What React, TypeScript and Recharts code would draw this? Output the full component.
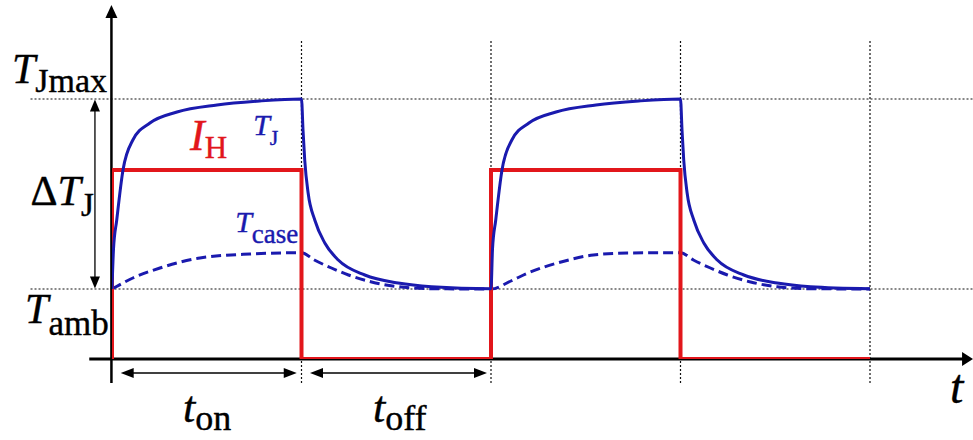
import React from "react"
import { LineChart, Line, XAxis, YAxis, ReferenceLine, ReferenceDot } from "recharts"

// heater current I_H: on for t_on, off for t_off (period = 2 units)
const squareTime = [0, 0, 1, 1, 2, 2, 3, 3, 4]
const squareLevel = [0, 18.9, 18.9, 0, 0, 18.9, 18.9, 0, 0]

// junction temperature T_J
const junctionTime = [
  0, 0.008, 0.025, 0.058, 0.11, 0.2, 0.343, 0.554, 0.78, 1.0,
  1.008, 1.017, 1.035, 1.07, 1.123, 1.194, 1.334, 1.51, 1.686, 2.0,
  2.008, 2.025, 2.058, 2.11, 2.2, 2.343, 2.554, 2.78, 3.0,
  3.008, 3.017, 3.035, 3.07, 3.123, 3.194, 3.334, 3.51, 3.686, 4.0,
]
const junctionTemp = [
  7.0, 11.0, 13.9, 18.9, 21.9, 23.6, 24.7, 25.4, 25.8, 26.0,
  22.9, 19.9, 16.6, 13.9, 11.6, 9.9, 8.4, 7.6, 7.23, 7.03,
  11.0, 13.9, 18.9, 21.9, 23.6, 24.7, 25.4, 25.8, 26.0,
  22.9, 19.9, 16.6, 13.9, 11.6, 9.9, 8.4, 7.6, 7.23, 7.03,
]

// case temperature T_case (dashed)
const caseTime = [
  0, 0.11, 0.253, 0.464, 0.728, 1.0, 1.068, 1.158, 1.248, 1.37, 1.51, 1.686, 2.0,
  2.105, 2.195, 2.37, 2.54, 2.72, 3.0, 3.068, 3.158, 3.248, 3.37, 3.51, 3.686, 4.0,
]
const caseTemp = [
  7.0, 8.1, 9.1, 10.1, 10.5, 10.63, 9.9, 9.1, 8.4, 7.7, 7.23, 7.03, 7.0,
  7.8, 8.6, 9.7, 10.4, 10.6, 10.63, 9.9, 9.1, 8.4, 7.7, 7.23, 7.03, 7.0,
]

const levelAmb = 7
const levelJmax = 26
const periodMarks = [1, 2, 3, 4]

const zip = (xs: number[], ys: number[]) => xs.map((t, i) => ({ t, v: ys[i] }))
const squareData = zip(squareTime, squareLevel)
const junctionData = zip(junctionTime, junctionTemp)
const caseData = zip(caseTime, caseTemp)

const BLUE = "#1a1aae"
const RED = "#e2161b"
const FONT = '"Liberation Serif", "DejaVu Serif", serif'

// line with filled arrow heads, drawn in pixel space from ReferenceLine coords
const arrow = (color: string, width: number, len: number, half: number, atStart: boolean, atEnd: boolean) =>
  (p: any) => {
    const { x1, y1, x2, y2 } = p
    const L = Math.hypot(x2 - x1, y2 - y1) || 1
    const ux = (x2 - x1) / L
    const uy = (y2 - y1) / L
    const head = (tx: number, ty: number, dx: number, dy: number) => {
      const bx = tx - dx * len
      const by = ty - dy * len
      const px = -dy * half
      const py = dx * half
      return <polygon points={`${tx},${ty} ${bx + px},${by + py} ${bx - px},${by - py}`} fill={color} />
    }
    const sx = atStart ? x1 + ux * len * 0.8 : x1
    const sy = atStart ? y1 + uy * len * 0.8 : y1
    const ex = atEnd ? x2 - ux * len * 0.8 : x2
    const ey = atEnd ? y2 - uy * len * 0.8 : y2
    return (
      <g>
        <line x1={sx} y1={sy} x2={ex} y2={ey} stroke={color} strokeWidth={width} />
        {atStart && head(x1, y1, -ux, -uy)}
        {atEnd && head(x2, y2, ux, uy)}
      </g>
    )
  }

// math-style label: italic main letter(s), upright subscript
const mathLabel = (pre: string, main: string, sub: string, size: number, subSize: number, dy: number, color = "#000") =>
  (p: any) => (
    <text x={p.cx} y={p.cy} fill={color} stroke={color} strokeWidth={0.4}
      style={{ fontFamily: FONT, fontSize: size }}>
      {pre && <tspan>{pre}</tspan>}
      <tspan style={{ fontStyle: "italic" }}>{main}</tspan>
      {sub && <tspan style={{ fontSize: subSize }} dy={dy}>{sub}</tspan>}
    </text>
  )

export default function App() {
  return (
    <div style={{ position: "absolute", left: 0, top: 0, background: "#fff" }}>
      <LineChart width={973} height={440} margin={{ top: 9, right: 8.25, bottom: 81, left: 112 }}>
        <XAxis dataKey="t" type="number" domain={[0, 4.5]} allowDataOverflow hide />
        <YAxis dataKey="v" type="number" domain={[0, 35]} allowDataOverflow hide />

        {/* dotted guides */}
        {periodMarks.map((m) => (
          <ReferenceLine key={m} segment={[{ x: m, y: -2.4 }, { x: m, y: 31.9 }]}
            stroke="#111" strokeWidth={1.2} strokeDasharray="2 2" ifOverflow="visible" />
        ))}
        <ReferenceLine segment={[{ x: -0.43, y: levelJmax }, { x: 4.544, y: levelJmax }]}
          stroke="#111" strokeWidth={1.2} strokeDasharray="2 2" ifOverflow="visible" />
        <ReferenceLine segment={[{ x: -0.43, y: levelAmb }, { x: 4.544, y: levelAmb }]}
          stroke="#111" strokeWidth={1.2} strokeDasharray="2 2" ifOverflow="visible" />

        {/* axes */}
        <ReferenceLine segment={[{ x: -0.003, y: -2.4 }, { x: -0.003, y: 35.4 }]}
          ifOverflow="visible" shape={arrow("#000", 2.5, 13, 6, false, true)} />
        <ReferenceLine segment={[{ x: -0.12, y: 0 }, { x: 4.544, y: 0 }]}
          ifOverflow="visible" shape={arrow("#000", 3, 11, 7, false, true)} />

        {/* ΔT_J and t_on / t_off arrows */}
        <ReferenceLine segment={[{ x: -0.09, y: levelJmax - 0.05 }, { x: -0.09, y: levelAmb + 0.05 }]}
          ifOverflow="visible" shape={arrow("#000", 1.3, 12, 5, true, true)} />
        <ReferenceLine segment={[{ x: 0.046, y: -1.4 }, { x: 0.975, y: -1.4 }]}
          ifOverflow="visible" shape={arrow("#000", 1.3, 13, 5, true, true)} />
        <ReferenceLine segment={[{ x: 1.045, y: -1.4 }, { x: 1.979, y: -1.4 }]}
          ifOverflow="visible" shape={arrow("#000", 1.3, 13, 5, true, true)} />

        <Line data={caseData} dataKey="v" type="monotone" stroke={BLUE} strokeWidth={3}
          strokeDasharray="10 5" dot={false} isAnimationActive={false} />
        <Line data={squareData} dataKey="v" type="linear" stroke={RED} strokeWidth={4}
          dot={false} isAnimationActive={false} />
        <Line data={junctionData} dataKey="v" type="monotone" stroke={BLUE} strokeWidth={3}
          dot={false} isAnimationActive={false} />

        {/* labels */}
        <ReferenceDot x={-0.528} y={27.6} ifOverflow="visible" shape={mathLabel("", "T", "Jmax", 42, 34, 9)} />
        <ReferenceDot x={-0.43} y={15.4} ifOverflow="visible" shape={mathLabel("Δ", "T", "J", 42, 33, 11)} />
        <ReferenceDot x={-0.459} y={3.6} ifOverflow="visible" shape={mathLabel("", "T", "amb", 42, 35, 12)} />
        <ReferenceDot x={0.412} y={20.9} ifOverflow="visible" shape={mathLabel("", "I", "H", 44, 31, 8, RED)} />
        <ReferenceDot x={0.745} y={22.4} ifOverflow="visible" shape={mathLabel("", "T", "J", 30, 22, 10, BLUE)} />
        <ReferenceDot x={0.65} y={12.7} ifOverflow="visible" shape={mathLabel("", "T", "case", 30, 27, 11, BLUE)} />
        <ReferenceDot x={0.375} y={-6.3} ifOverflow="visible" shape={mathLabel("", "t", "on", 44, 36, 8)} />
        <ReferenceDot x={1.377} y={-6.3} ifOverflow="visible" shape={mathLabel("", "t", "off", 44, 36, 8)} />
        <ReferenceDot x={4.422} y={-4.4} ifOverflow="visible" shape={mathLabel("", "t", "", 48, 0, 0)} />
      </LineChart>
    </div>
  )
}
